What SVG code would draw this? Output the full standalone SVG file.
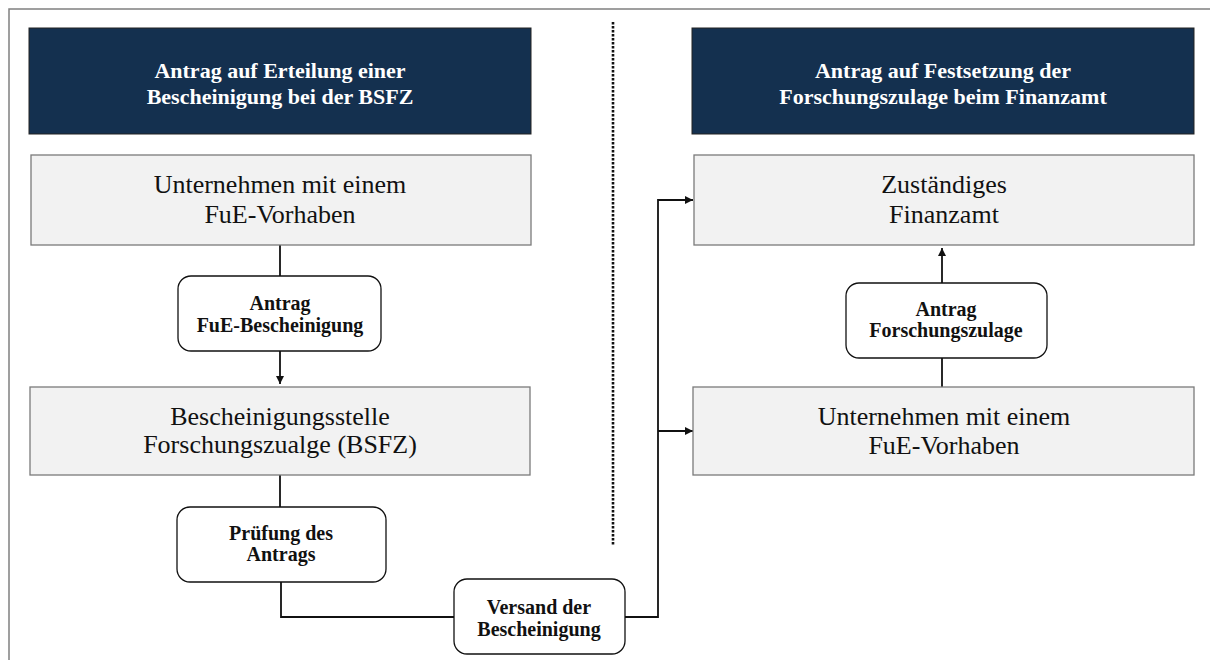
<svg xmlns="http://www.w3.org/2000/svg" width="1210" height="660" viewBox="0 0 1210 660">
<style>
.hdr{fill:#14304f;stroke:#222;stroke-width:1}
.hdrt{font-family:"Liberation Serif","Times New Roman",serif;font-weight:bold;font-size:22px;fill:#fff;text-anchor:middle}
.box{fill:#f2f2f2;stroke:#7a7a7a;stroke-width:1.3}
.boxt{font-family:"Liberation Serif","Times New Roman",serif;font-size:26px;fill:#111;text-anchor:middle}
.rbox{fill:#fff;stroke:#111;stroke-width:1.3}
.rboxt{font-family:"Liberation Serif","Times New Roman",serif;font-weight:bold;font-size:20px;fill:#111;text-anchor:middle}
.con{fill:none;stroke:#111;stroke-width:1.8}
</style>
<defs>
<marker id="arr" viewBox="0 0 10 10" refX="10" refY="5" markerWidth="8" markerHeight="8" markerUnits="userSpaceOnUse" orient="auto">
<path d="M0,0 L10,5 L0,10 z" fill="#111"/>
</marker>
</defs>
<rect x="9" y="9" width="1220" height="670" fill="#fff" stroke="#808080" stroke-width="1.5"/>
<line x1="613" y1="22" x2="613" y2="545" stroke="#111" stroke-width="2.6" stroke-dasharray="2.4 1.6"/>

<g id="connectors">
<line class="con" x1="280" y1="245" x2="280" y2="276"/>
<line class="con" x1="280" y1="351" x2="280" y2="384" marker-end="url(#arr)"/>
<line class="con" x1="280" y1="475" x2="280" y2="507"/>
<polyline class="con" points="281,582 281,617 454,617"/>
<polyline class="con" points="625,617 658,617 658,200 693,200" marker-end="url(#arr)"/>
<line class="con" x1="658" y1="431" x2="693" y2="431" marker-end="url(#arr)"/>
<line class="con" x1="942" y1="283" x2="942" y2="248" marker-end="url(#arr)"/>
<line class="con" x1="942" y1="358" x2="942" y2="387"/>
</g>

<g id="header-left">
<rect class="hdr" x="29" y="28" width="502" height="106"/>
<text class="hdrt" x="280" y="78">Antrag auf Erteilung einer</text>
<text class="hdrt" x="280" y="104">Bescheinigung bei der BSFZ</text>
</g>
<g id="header-right">
<rect class="hdr" x="692" y="28" width="502" height="106"/>
<text class="hdrt" x="943" y="78">Antrag auf Festsetzung der</text>
<text class="hdrt" x="943" y="104">Forschungszulage beim Finanzamt</text>
</g>

<g id="unternehmen-left">
<rect class="box" x="31" y="155" width="500" height="90"/>
<text class="boxt" x="280" y="193">Unternehmen mit einem</text>
<text class="boxt" x="280" y="223">FuE-Vorhaben</text>
</g>
<g id="antrag-fue">
<rect class="rbox" x="178" y="276" width="203" height="75" rx="13"/>
<text class="rboxt" x="280" y="310">Antrag</text>
<text class="rboxt" x="280" y="332">FuE-Bescheinigung</text>
</g>
<g id="bsfz">
<rect class="box" x="30" y="387" width="500" height="88"/>
<text class="boxt" x="280" y="425">Bescheinigungsstelle</text>
<text class="boxt" x="280" y="453">Forschungszualge (BSFZ)</text>
</g>
<g id="pruefung">
<rect class="rbox" x="177" y="507" width="209" height="75" rx="13"/>
<text class="rboxt" x="281" y="540">Prüfung des</text>
<text class="rboxt" x="281" y="561">Antrags</text>
</g>
<g id="versand">
<rect class="rbox" x="454" y="579" width="171" height="75" rx="13"/>
<text class="rboxt" x="539" y="614">Versand der</text>
<text class="rboxt" x="539" y="636">Bescheinigung</text>
</g>
<g id="finanzamt">
<rect class="box" x="694" y="155" width="500" height="90"/>
<text class="boxt" x="944" y="193">Zuständiges</text>
<text class="boxt" x="944" y="223">Finanzamt</text>
</g>
<g id="antrag-fz">
<rect class="rbox" x="846" y="283" width="201" height="75" rx="13"/>
<text class="rboxt" x="946" y="316">Antrag</text>
<text class="rboxt" x="946" y="337">Forschungszulage</text>
</g>
<g id="unternehmen-right">
<rect class="box" x="693" y="387" width="501" height="88"/>
<text class="boxt" x="944" y="425">Unternehmen mit einem</text>
<text class="boxt" x="944" y="454">FuE-Vorhaben</text>
</g>
</svg>
